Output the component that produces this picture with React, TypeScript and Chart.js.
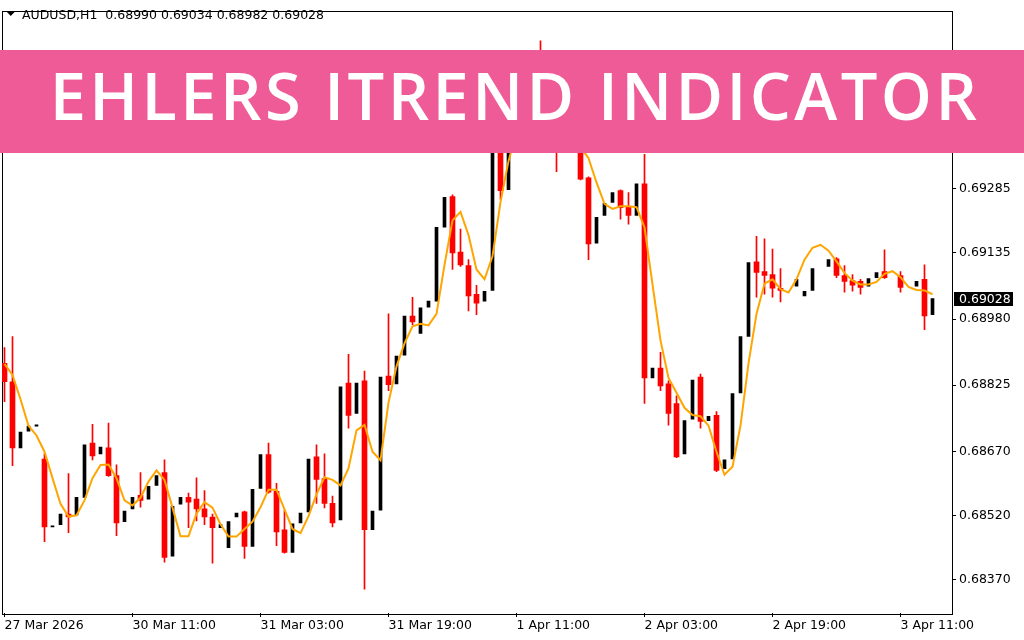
import React, { useEffect, useRef } from "react";
import { Chart, registerables } from "chart.js";

Chart.register(...registerables);

const symbolTitle = "AUDUSD,H1";
const bannerTitle = "EHLERS ITREND INDICATOR";

// x-axis labels (every 16 hourly bars)
const timeTickIndexes = [0, 16, 32, 48, 64, 80, 96, 112];
const timeTickLabels = [
  "27 Mar 2026",
  "30 Mar 11:00",
  "31 Mar 03:00",
  "31 Mar 19:00",
  "1 Apr 11:00",
  "2 Apr 03:00",
  "2 Apr 19:00",
  "3 Apr 11:00",
];

// price-axis labels
const priceTicks = [0.6959, 0.69435, 0.69285, 0.69135, 0.6898, 0.68825, 0.6867, 0.6852, 0.6837];

// hourly candles (AUDUSD H1)
const opens = [
  0.68876, 0.68833, 0.68678, 0.68717, 0.68729, 0.68652, 0.68493, 0.68498, 0.68523, 0.68521,
  0.68562, 0.68689, 0.68664, 0.68678, 0.68613, 0.68505, 0.68535, 0.68567, 0.68558, 0.6859,
  0.6862, 0.68424, 0.68546, 0.68562, 0.68558, 0.68535, 0.68516, 0.68491, 0.68444, 0.68516,
  0.68528, 0.68447, 0.68583, 0.68662, 0.68576, 0.68486, 0.68433, 0.68502, 0.68528, 0.68657,
  0.68606, 0.68548, 0.68509, 0.6883, 0.68759, 0.68835, 0.68486, 0.68532, 0.68846, 0.68828,
  0.68895, 0.68987, 0.68946, 0.69008, 0.69022, 0.69195, 0.69267, 0.69137, 0.69105, 0.69038,
  0.69022, 0.69047, 0.69384, 0.69283, 0.69431, 0.69489, 0.69546, 0.69512, 0.69477, 0.69431,
  0.69384, 0.69435, 0.69396, 0.69311, 0.69158, 0.69223, 0.69253, 0.69281, 0.69244, 0.69223,
  0.69297, 0.68842, 0.68865, 0.68828, 0.68782, 0.68664, 0.68745, 0.68844, 0.68742, 0.68754,
  0.68629, 0.68652, 0.68807, 0.68939, 0.69114, 0.69091, 0.69084, 0.69052, 0.69043, 0.69057,
  0.69034, 0.69047, 0.691, 0.69103, 0.69121, 0.69082, 0.6907, 0.69068, 0.69057, 0.69077,
  0.69091, 0.69087, 0.69082, 0.69054, 0.69057, 0.69073, 0.6899,
];
const highs = [
  0.68913, 0.68939, 0.68719, 0.68731, 0.68735, 0.68664, 0.68497, 0.68525, 0.68618, 0.68565,
  0.68689, 0.68733, 0.68685, 0.68736, 0.68638, 0.68532, 0.68565, 0.6862, 0.6859, 0.68615,
  0.6865, 0.68544, 0.68565, 0.68572, 0.68608, 0.68578, 0.68523, 0.685, 0.68507, 0.68528,
  0.6853, 0.68583, 0.68664, 0.68689, 0.68595, 0.68532, 0.68502, 0.68528, 0.68655, 0.68685,
  0.68664, 0.68565, 0.68823, 0.68897, 0.68833, 0.68858, 0.68532, 0.68846, 0.68992, 0.68895,
  0.6899, 0.69031, 0.69008, 0.69024, 0.69197, 0.69267, 0.69271, 0.69191, 0.69119, 0.69059,
  0.69047, 0.69389, 0.69407, 0.69442, 0.695, 0.69565, 0.69581, 0.69632, 0.69489, 0.69449,
  0.69454, 0.69449, 0.69412, 0.69313, 0.69221, 0.69253, 0.69278, 0.69283, 0.69276, 0.69299,
  0.69366, 0.68867, 0.68902, 0.68835, 0.688, 0.68745, 0.68839, 0.68851, 0.68754, 0.68763,
  0.68652, 0.68807, 0.68941, 0.69114, 0.69174, 0.69168, 0.69144, 0.69098, 0.69045, 0.69075,
  0.69047, 0.691, 0.69105, 0.69121, 0.69124, 0.69105, 0.69084, 0.69073, 0.69077, 0.69091,
  0.69142, 0.69091, 0.69091, 0.69059, 0.6907, 0.69107, 0.69034,
];
const lows = [
  0.68786, 0.68636, 0.68675, 0.68715, 0.68726, 0.68458, 0.68491, 0.68495, 0.68479, 0.68518,
  0.6856, 0.6865, 0.68662, 0.68611, 0.68472, 0.68502, 0.68532, 0.68539, 0.68555, 0.68588,
  0.6841, 0.68421, 0.68544, 0.68491, 0.68507, 0.68498, 0.68408, 0.68488, 0.68442, 0.68513,
  0.68419, 0.68444, 0.68581, 0.68572, 0.68449, 0.68431, 0.68431, 0.685, 0.68525, 0.68548,
  0.68537, 0.68493, 0.68507, 0.68724, 0.68756, 0.68347, 0.68484, 0.6853, 0.68812, 0.68826,
  0.68893, 0.68967, 0.68944, 0.69006, 0.6902, 0.69193, 0.69096, 0.69103, 0.68999, 0.6899,
  0.6902, 0.69045, 0.6926, 0.69278, 0.69419, 0.69477, 0.69495, 0.69465, 0.69412, 0.69325,
  0.69373, 0.69384, 0.69306, 0.69119, 0.69156, 0.69221, 0.69251, 0.69214, 0.69202, 0.69221,
  0.68782, 0.68839, 0.68812, 0.68731, 0.68655, 0.68662, 0.68742, 0.68724, 0.6874, 0.68622,
  0.68627, 0.6865, 0.68805, 0.68937, 0.69031, 0.69038, 0.69031, 0.6902, 0.69038, 0.69054,
  0.69031, 0.69045, 0.69098, 0.691, 0.69077, 0.69043, 0.69045, 0.69038, 0.69054, 0.69075,
  0.69075, 0.69084, 0.69043, 0.69052, 0.69054, 0.68955, 0.68982,
];
const closes = [
  0.68833, 0.68678, 0.68715, 0.68729, 0.68732, 0.68493, 0.68495, 0.68523, 0.68516, 0.68562,
  0.68685, 0.68659, 0.6868, 0.68613, 0.68502, 0.6853, 0.68562, 0.68555, 0.68588, 0.68613,
  0.68421, 0.68541, 0.68562, 0.68551, 0.68535, 0.68516, 0.68491, 0.68498, 0.68505, 0.68525,
  0.68447, 0.68581, 0.68662, 0.68574, 0.68481, 0.68433, 0.685, 0.68525, 0.68652, 0.68604,
  0.68548, 0.68502, 0.68821, 0.68754, 0.6883, 0.68486, 0.6853, 0.68844, 0.68826, 0.68893,
  0.68987, 0.68973, 0.69006, 0.69022, 0.69195, 0.69265, 0.69135, 0.69107, 0.69034, 0.69017,
  0.69045, 0.69384, 0.69281, 0.69431, 0.69489, 0.69546, 0.69512, 0.69477, 0.69431, 0.69384,
  0.69435, 0.69396, 0.69308, 0.69156, 0.69218, 0.69251, 0.69276, 0.69241, 0.69223, 0.69297,
  0.68842, 0.68865, 0.68823, 0.68759, 0.68657, 0.68742, 0.68837, 0.6874, 0.68752, 0.68625,
  0.6865, 0.68805, 0.68939, 0.69112, 0.69089, 0.69082, 0.69052, 0.69047, 0.69043, 0.69073,
  0.69045, 0.69098, 0.691, 0.69119, 0.69082, 0.69068, 0.69059, 0.69054, 0.69075, 0.69089,
  0.69077, 0.69087, 0.69054, 0.69054, 0.69068, 0.68987, 0.69028,
];

// Ehlers iTrend indicator values
const itrend = [
  0.68875, 0.68849, 0.68792, 0.6873, 0.68707, 0.68669, 0.68607, 0.68547, 0.68517, 0.6852,
  0.68555, 0.68607, 0.68638, 0.68639, 0.68607, 0.68555, 0.68543, 0.68561, 0.68599, 0.68625,
  0.68603, 0.68538, 0.68471, 0.68471, 0.68524, 0.68551, 0.68538, 0.68499, 0.6847, 0.6847,
  0.68488, 0.68505, 0.68539, 0.6858, 0.6858, 0.68534, 0.68488, 0.68478, 0.68518, 0.68569,
  0.68609, 0.68603, 0.6859, 0.6863, 0.68719, 0.68732, 0.68669, 0.68649, 0.68784, 0.68869,
  0.68923, 0.68963, 0.68969, 0.68965, 0.68992, 0.69107, 0.69211, 0.69231, 0.69177, 0.69096,
  0.69073, 0.69127, 0.69254, 0.6935, 0.69419, 0.69477, 0.69505, 0.69512, 0.695, 0.6947,
  0.69442, 0.69412, 0.69384, 0.69357, 0.693, 0.6925, 0.69238, 0.69244, 0.69244, 0.69242,
  0.69195, 0.69061, 0.6893, 0.68842, 0.68807, 0.68772, 0.68755, 0.68752, 0.6873, 0.68669,
  0.68615, 0.68634, 0.6873, 0.68876, 0.68992, 0.69063, 0.69073, 0.6905, 0.69042, 0.69073,
  0.69119, 0.69147, 0.69154, 0.6914, 0.69115, 0.69088, 0.6907, 0.69061, 0.69061, 0.69067,
  0.69086, 0.69092, 0.69078, 0.69055, 0.69048, 0.69047, 0.69038,
];

const AXIS_FONT = { family: "DejaVu Sans", size: 12.5 };

export default function App() {
  const canvasRef = useRef<HTMLCanvasElement | null>(null);

  useEffect(() => {
    const canvas = canvasRef.current;
    if (!canvas) return;
    const idx = opens.map((_, i) => i);
    const bullBodies = idx
      .filter((i) => closes[i] > opens[i])
      .map((i) => ({ x: i, y: [opens[i], closes[i]] }));
    const bearBodies = idx
      .filter((i) => closes[i] < opens[i])
      .map((i) => ({ x: i, y: [closes[i], opens[i]] }));
    const bearWicks = idx
      .filter((i) => closes[i] < opens[i])
      .map((i) => ({ x: i, y: [lows[i], highs[i]] }));
    const trendLine = idx.map((i) => ({ x: i, y: itrend[i] }));
    const last = opens.length - 1;

    const framePlugin = {
      id: "frame",
      beforeDatasetsDraw(chart: any) {
        const { ctx, chartArea } = chart;
        ctx.save();
        ctx.strokeStyle = "#000";
        ctx.lineWidth = 1;
        ctx.strokeRect(
          Math.round(chartArea.left) + 0.5,
          Math.round(chartArea.top) + 0.5,
          Math.round(chartArea.right - chartArea.left),
          Math.round(chartArea.bottom - chartArea.top)
        );
        ctx.restore();
      },
      afterDraw(chart: any) {
        const { ctx } = chart;
        ctx.save();
        // header
        ctx.fillStyle = "#000";
        ctx.beginPath();
        ctx.moveTo(6, 11);
        ctx.lineTo(15.5, 11);
        ctx.lineTo(10.75, 16);
        ctx.closePath();
        ctx.fill();
        ctx.font = '12.5px "DejaVu Sans"';
        ctx.textBaseline = "alphabetic";
        ctx.textAlign = "left";
        const header =
          symbolTitle +
          "  " +
          [opens[last], highs[last], lows[last], closes[last]].map((v) => v.toFixed(5)).join(" ");
        ctx.fillText(header, 22, 18.5);
        // current price tag
        const yScale = chart.scales.y;
        const py = Math.round(yScale.getPixelForValue(closes[last]));
        ctx.fillStyle = "#000";
        ctx.fillRect(954, py - 7, 59, 14);
        ctx.fillStyle = "#fff";
        ctx.textBaseline = "middle";
        ctx.fillText(closes[last].toFixed(5), 959, py + 0.5);
        ctx.restore();
      },
    };

    const chart = new Chart(canvas, {
      type: "bar",
      data: {
        datasets: [
          {
            type: "line",
            data: trendLine,
            borderColor: "#FFA500",
            borderWidth: 2,
            pointRadius: 0,
            tension: 0,
            fill: false,
            order: 0,
          } as any,
          {
            data: bullBodies,
            backgroundColor: "#000000",
            barThickness: 3,
            minBarLength: 1,
            grouped: false,
            borderWidth: 0,
            order: 1,
          } as any,
          {
            data: bearBodies,
            backgroundColor: "#FF0000",
            barThickness: 5,
            minBarLength: 1,
            grouped: false,
            borderWidth: 0,
            order: 1,
          } as any,
          {
            data: bearWicks,
            backgroundColor: "#FF0000",
            barThickness: 1,
            minBarLength: 1,
            grouped: false,
            borderWidth: 0,
            order: 2,
          } as any,
        ],
      },
      options: {
        responsive: false,
        animation: false,
        events: [],
        layout: { padding: { left: 2, top: 2, right: 0, bottom: 0 } },
        plugins: { legend: { display: false }, tooltip: { enabled: false } },
        scales: {
          x: {
            type: "linear",
            min: -0.3125,
            max: 118.4375,
            offset: false,
            grid: {
              display: true,
              drawOnChartArea: false,
              drawTicks: true,
              tickLength: 4,
              color: "#000",
              offset: false,
            },
            border: { display: false },
            ticks: {
              autoSkip: false,
              maxRotation: 0,
              minRotation: 0,
              align: "start",
              padding: 1,
              color: "#000",
              font: AXIS_FONT,
              callback: (v: any) => {
                const k = timeTickIndexes.indexOf(Number(v));
                return k >= 0 ? timeTickLabels[k] : "";
              },
            },
            afterBuildTicks: (s: any) => {
              s.ticks = timeTickIndexes.map((v) => ({ value: v }));
            },
            afterFit: (s: any) => {
              s.height = 27;
            },
          },
          y: {
            type: "linear",
            position: "right",
            min: 0.68291,
            max: 0.69703,
            grid: {
              display: true,
              drawOnChartArea: false,
              drawTicks: true,
              tickLength: 4,
              color: "#000",
            },
            border: { display: false },
            ticks: {
              autoSkip: false,
              padding: 3,
              color: "#000",
              font: AXIS_FONT,
              callback: (v: any) => Number(v).toFixed(5),
            },
            afterBuildTicks: (s: any) => {
              s.ticks = priceTicks.map((v) => ({ value: v }));
            },
            afterFit: (s: any) => {
              s.width = 72;
            },
          },
        },
      } as any,
      plugins: [framePlugin],
    });

    return () => {
      chart.destroy();
    };
  }, []);

  return (
    <div
      style={{
        position: "fixed",
        left: 0,
        top: 0,
        width: 1024,
        height: 640,
        background: "#fff",
        overflow: "hidden",
      }}
    >
      <canvas ref={canvasRef} width={1024} height={640} style={{ display: "block" }} />
      <div
        style={{
          position: "absolute",
          left: 0,
          top: 50,
          width: 1024,
          height: 103,
          background: "#EF5B97",
          overflow: "hidden",
        }}
      >
        <div
          style={{
            position: "absolute",
            left: 0,
            right: 0,
            top: 13,
            textAlign: "center",
            color: "#fff",
            fontFamily: '"Open Sans", sans-serif',
            fontWeight: 600,
            fontSize: 65,
            lineHeight: "65px",
            letterSpacing: 3.4,
            paddingLeft: 6,
            whiteSpace: "nowrap",
          }}
        >
          {bannerTitle}
        </div>
      </div>
    </div>
  );
}
